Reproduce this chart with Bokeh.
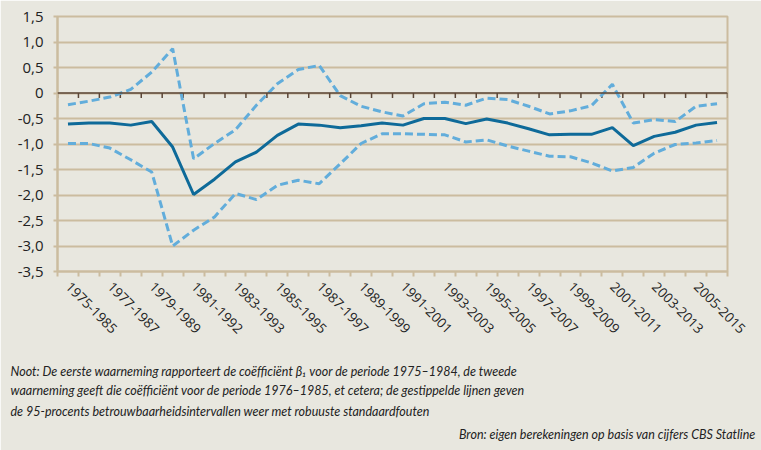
import math
from bokeh.plotting import figure
from bokeh.models import FixedTicker, Span, Title
from bokeh.embed import file_html
from bokeh.resources import INLINE

# ---- data ----
tick_labels = ["1975-1985", "1977-1987", "1979-1989", "1981-1992", "1983-1993",
               "1985-1995", "1987-1997", "1989-1999", "1991-2001", "1993-2003",
               "1995-2005", "1997-2007", "1999-2009", "2001-2011", "2003-2013",
               "2005-2015"]
coef = [-0.61, -0.59, -0.59, -0.63, -0.56, -1.06, -1.99, -1.69, -1.35, -1.16,
        -0.83, -0.61, -0.63, -0.68, -0.64, -0.59, -0.63, -0.50, -0.50, -0.60,
        -0.51, -0.59, -0.70, -0.82, -0.81, -0.81, -0.68, -1.03, -0.85, -0.77,
        -0.63, -0.58]
upper = [-0.23, -0.16, -0.08, 0.07, 0.41, 0.87, -1.29, -0.99, -0.72, -0.24,
         0.18, 0.46, 0.54, -0.05, -0.26, -0.37, -0.45, -0.21, -0.18, -0.24,
         -0.10, -0.13, -0.26, -0.41, -0.35, -0.25, 0.17, -0.59, -0.52, -0.56,
         -0.26, -0.21]
lower = [-0.99, -0.99, -1.08, -1.31, -1.55, -3.00, -2.69, -2.43, -1.97, -2.09,
         -1.81, -1.71, -1.78, -1.39, -0.99, -0.80, -0.80, -0.81, -0.82, -0.96,
         -0.92, -1.04, -1.14, -1.24, -1.25, -1.37, -1.53, -1.46, -1.18, -1.01,
         -0.98, -0.93]
y_ticks = [-3.5, -3.0, -2.5, -2.0, -1.5, -1.0, -0.5, 0.0, 0.5, 1.0, 1.5]
y_tick_labels = ["-3,5", "-3,0", "-2,5", "-2,0", "-1,5", "-1,0", "-0,5", "0",
                 "0,5", "1,0", "1,5"]
note_lines = [
    "Noot: De eerste waarneming rapporteert de coëfficiënt β\u2081 voor de periode 1975\u20131984, de tweede",
    "waarneming geeft die coëfficiënt voor de periode 1976\u20131985, et cetera; de gestippelde lijnen geven",
    "de 95-procents betrouwbaarheidsintervallen weer met robuuste standaardfouten",
]
source = "Bron:  eigen berekeningen op basis van cijfers CBS Statline"

BG = "#e8e7df"
TAN = "#cbbc9f"
BROWN = "#5b4637"
DARK = "#0e6a99"
LIGHT = "#62addb"
W, H = 761, 450

n = len(coef)
x = list(range(n))
bounds = [i - 0.5 for i in range(n + 1)]

p = figure(width=W, height=H, output_backend="svg", toolbar_location=None,
           x_range=(-0.5, n - 0.5), y_range=(-3.5, 1.5),
           min_border_left=57, min_border_right=34, min_border_top=16,
           min_border_bottom=179)
p.background_fill_color = BG
p.border_fill_color = BG
p.outline_line_color = TAN
p.outline_line_width = 2

# grids
p.xgrid.visible = False
p.ygrid.ticker = FixedTicker(ticks=y_ticks)
p.ygrid.grid_line_color = TAN
p.ygrid.grid_line_width = 2

# y axis
ya = p.yaxis[0]
ya.ticker = FixedTicker(ticks=y_ticks)
ya.major_label_overrides = {t: l for t, l in zip(y_ticks, y_tick_labels)}
ya.axis_line_color = TAN
ya.axis_line_width = 2
ya.major_tick_line_color = TAN
ya.major_tick_line_width = 2
ya.major_tick_out = 4
ya.major_tick_in = 0
ya.minor_tick_line_color = None
ya.major_label_standoff = 10
ya.major_label_text_font = "Open Sans"
ya.major_label_text_font_size = "15px"
ya.major_label_text_color = "#222222"

# x axis
xa = p.xaxis[0]
label_pos = list(range(0, 2 * len(tick_labels), 2))
xa.ticker = FixedTicker(ticks=label_pos, minor_ticks=bounds)
xa.major_label_overrides = {t: l for t, l in zip(label_pos, tick_labels)}
xa.major_label_orientation = -math.pi / 4
xa.axis_line_color = TAN
xa.axis_line_width = 2
xa.major_tick_line_color = None
xa.major_tick_out = 0
xa.major_tick_in = 0
xa.minor_tick_line_color = TAN
xa.minor_tick_line_width = 2
xa.minor_tick_out = 5
xa.minor_tick_in = 0
xa.major_label_standoff = 8
xa.major_label_text_font = "Open Sans"
xa.major_label_text_font_size = "13.5px"
xa.major_label_text_color = "#222222"

# zero line with tick marks
p.add_layout(Span(location=0, dimension="width", line_color=BROWN, line_width=1.5))
p.segment(x0=bounds, x1=bounds, y0=[0] * len(bounds), y1=[-5 / 51] * len(bounds),
          line_color=BROWN, line_width=1.5)

p.line(x, upper, line_color=LIGHT, line_width=3, line_dash="8 4")
p.line(x, lower, line_color=LIGHT, line_width=3, line_dash="8 4")
p.line(x, coef, line_color=DARK, line_width=3)

# note lines below the chart (a thin spacer first)
p.add_layout(Title(text=" ", text_font_size="1px", standoff=18), "below")
note_style = dict(text_font="Lato", text_font_style="italic",
                  text_font_size="12.5px", text_color="#222222")
standoffs = [0, 4, 4]
for txt, so in zip(note_lines, standoffs):
    p.add_layout(Title(text=txt, align="left", offset=-47, standoff=so,
                       **note_style), "below")
p.add_layout(Title(text=source, align="right", offset=-31, standoff=8,
                   **note_style), "below")

html = file_html(p, INLINE)
html = html.replace("<body>", '<body style="background:%s">' % BG, 1)
open("out.html", "w").write(html)
